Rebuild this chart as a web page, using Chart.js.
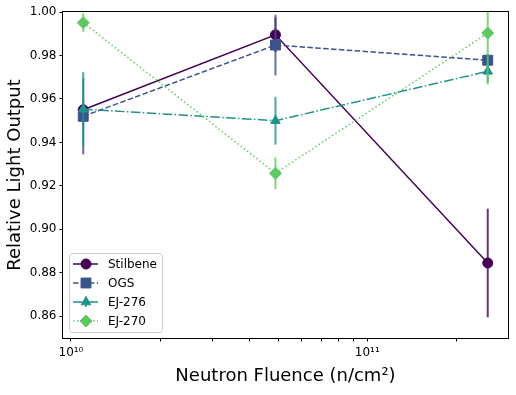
<!DOCTYPE html>
<html lang="en">
<head>
<meta charset="UTF-8">
<title>Relative Light Output vs Neutron Fluence</title>
<script src="https://cdn.jsdelivr.net/npm/chart.js"></script>
<style>
  body { margin: 0; background: #fff; }
  canvas { display: block; }
</style>
</head>
<body>
<canvas id="chart" width="516" height="395"></canvas>
<script>
// data
const fluence = [1.1e10, 4.9e10, 2.55e11];
const seriesNames = ["Stilbene", "OGS", "EJ-276", "EJ-270"];
const stilbene = [0.955, 0.9895, 0.8845];
const stilbeneErr = [0.003, 0.008, 0.025];
const ogs = [0.952, 0.9848, 0.9778];
const ogsErr = [0.0175, 0.014, 0.003];
const ej276 = [0.9553, 0.9500, 0.9727];
const ej276Err = [0.017, 0.011, 0.005];
const ej270 = [0.9951, 0.9258, 0.9903];
const ej270Err = [0.0042, 0.0073, 0.0236];
const yTicks = [0.86, 0.88, 0.90, 0.92, 0.94, 0.96, 0.98, 1.00];
const xTicks = [1e10, 2e10, 3e10, 4e10, 5e10, 6e10, 7e10, 8e10, 9e10, 1e11, 2e11];
const xTickLabels = {1e10: "10\u00B9\u2070", 1e11: "10\u00B9\u00B9"};

const colors = ["#440154", "#3b528b", "#21918c", "#5ec962"];
const errColors = ["rgba(68,1,84,0.8)", "rgba(59,82,139,0.8)", "rgba(33,145,140,0.8)", "rgba(94,201,98,0.8)"];
const markers = ["circle", "rect", "triangle", "rectRot"];
const markerSize = [5, 7, 5.5, 6];
const dashes = [[], [5.5, 2.4], [9.6, 2.4, 1.5, 2.4], [1.5, 2.5]];

const values = [stilbene, ogs, ej276, ej270];
const errors = [stilbeneErr, ogsErr, ej276Err, ej270Err];
const font = "DejaVu Sans";

const datasets = seriesNames.map((name, i) => ({
    label: name,
    data: fluence.map((x, j) => ({x: x, y: values[i][j]})),
    errors: errors[i],
    errColor: errColors[i],
    borderColor: colors[i],
    backgroundColor: colors[i],
    borderWidth: 1.5,
    borderDash: dashes[i],
    pointStyle: markers[i],
    pointRadius: markerSize[i],
    pointHoverRadius: markerSize[i],
    pointBorderWidth: 1,
    showLine: true,
    tension: 0,
    order: seriesNames.length - 1 - i
}));

// vertical error bars, drawn just before each dataset
const errorBars = {
    id: "errorBars",
    beforeDatasetDraw(chart, args) {
        const ds = chart.data.datasets[args.index];
        const {ctx, chartArea: a, scales: {x, y}} = chart;
        ctx.save();
        ctx.beginPath();
        ctx.rect(a.left, a.top, a.right - a.left, a.bottom - a.top);
        ctx.clip();
        ctx.strokeStyle = ds.errColor;
        ctx.lineWidth = 2;
        ds.data.forEach((p, i) => {
            const px = x.getPixelForValue(p.x);
            ctx.beginPath();
            ctx.moveTo(px, y.getPixelForValue(p.y - ds.errors[i]));
            ctx.lineTo(px, y.getPixelForValue(p.y + ds.errors[i]));
            ctx.stroke();
        });
        ctx.restore();
    }
};

// axes box + legend in matplotlib style
const frameAndLegend = {
    id: "frameAndLegend",
    afterDraw(chart) {
        const {ctx, chartArea: a} = chart;
        ctx.save();
        ctx.strokeStyle = "#000";
        ctx.lineWidth = 1;
        ctx.strokeRect(a.left - 0.5, a.top - 0.5, a.right - a.left + 1, a.bottom - a.top + 1);

        const left = a.left + 6, w = 93, h = 79, top = a.bottom - 6 - h;
        ctx.fillStyle = "rgba(255,255,255,0.8)";
        ctx.strokeStyle = "#cccccc";
        ctx.beginPath();
        ctx.roundRect(left + 0.5, top + 0.5, w, h, 3);
        ctx.fill();
        ctx.stroke();

        chart.data.datasets.forEach((ds, i) => {
            const cy = top + 11 + i * 19;
            const x0 = left + 4, x1 = left + 29, cx = left + 17;
            ctx.strokeStyle = ds.borderColor;
            ctx.lineWidth = 1.5;
            ctx.setLineDash(ds.borderDash);
            ctx.beginPath();
            ctx.moveTo(x0, cy);
            ctx.lineTo(x1, cy);
            ctx.stroke();
            ctx.setLineDash([]);
            ctx.strokeStyle = ds.errColor;
            ctx.lineWidth = 2;
            ctx.beginPath();
            ctx.moveTo(cx, cy - 5);
            ctx.lineTo(cx, cy + 5);
            ctx.stroke();
            ctx.fillStyle = ds.backgroundColor;
            ctx.strokeStyle = ds.borderColor;
            ctx.lineWidth = 1;
            Chart.helpers.drawPoint(ctx, {pointStyle: ds.pointStyle, radius: ds.pointRadius, rotation: 0, borderWidth: 1}, cx, cy);
            ctx.fillStyle = "#000";
            ctx.font = "12px '" + font + "'";
            ctx.textBaseline = "middle";
            ctx.fillText(ds.label, left + 39, cy + 1);
        });
        ctx.restore();
    }
};

new Chart(document.getElementById("chart"), {
    type: "scatter",
    data: { datasets: datasets },
    options: {
        responsive: false,
        animation: false,
        devicePixelRatio: 1,
        layout: { padding: { top: 12, right: 7, left: 0, bottom: 0 } },
        plugins: { legend: { display: false }, tooltip: { enabled: false } },
        scales: {
            x: {
                type: "logarithmic",
                min: 9.4e9,
                max: 2.985e11,
                afterBuildTicks: s => { s.ticks = xTicks.map(v => ({value: v})); },
                afterFit: s => { s.height = 57; },
                grid: { drawOnChartArea: false, tickLength: 3.5, tickColor: "#000" },
                border: { display: false },
                ticks: {
                    autoSkip: false,
                    maxRotation: 0,
                    padding: 4,
                    color: "#000",
                    font: { family: font, size: 12 },
                    callback: v => xTickLabels[v] || ""
                },
                title: {
                    display: true,
                    text: "Neutron Fluence (n/cm\u00B2)",
                    color: "#000",
                    font: { family: font, size: 18 },
                    padding: { top: 0, bottom: 8 }
                }
            },
            y: {
                min: 0.85,
                max: 1.0,
                afterBuildTicks: s => { s.ticks = yTicks.map(v => ({value: v})); },
                afterFit: s => { s.width = 63; },
                grid: { drawOnChartArea: false, tickLength: 3.5, tickColor: "#000" },
                border: { display: false },
                ticks: {
                    padding: 3,
                    color: "#000",
                    font: { family: font, size: 12 },
                    callback: v => v.toFixed(2)
                },
                title: {
                    display: true,
                    text: "Relative Light Output",
                    color: "#000",
                    font: { family: font, size: 18 },
                    padding: { top: 5, bottom: 0 }
                }
            }
        }
    },
    plugins: [errorBars, frameAndLegend]
});
</script>
</body>
</html>
